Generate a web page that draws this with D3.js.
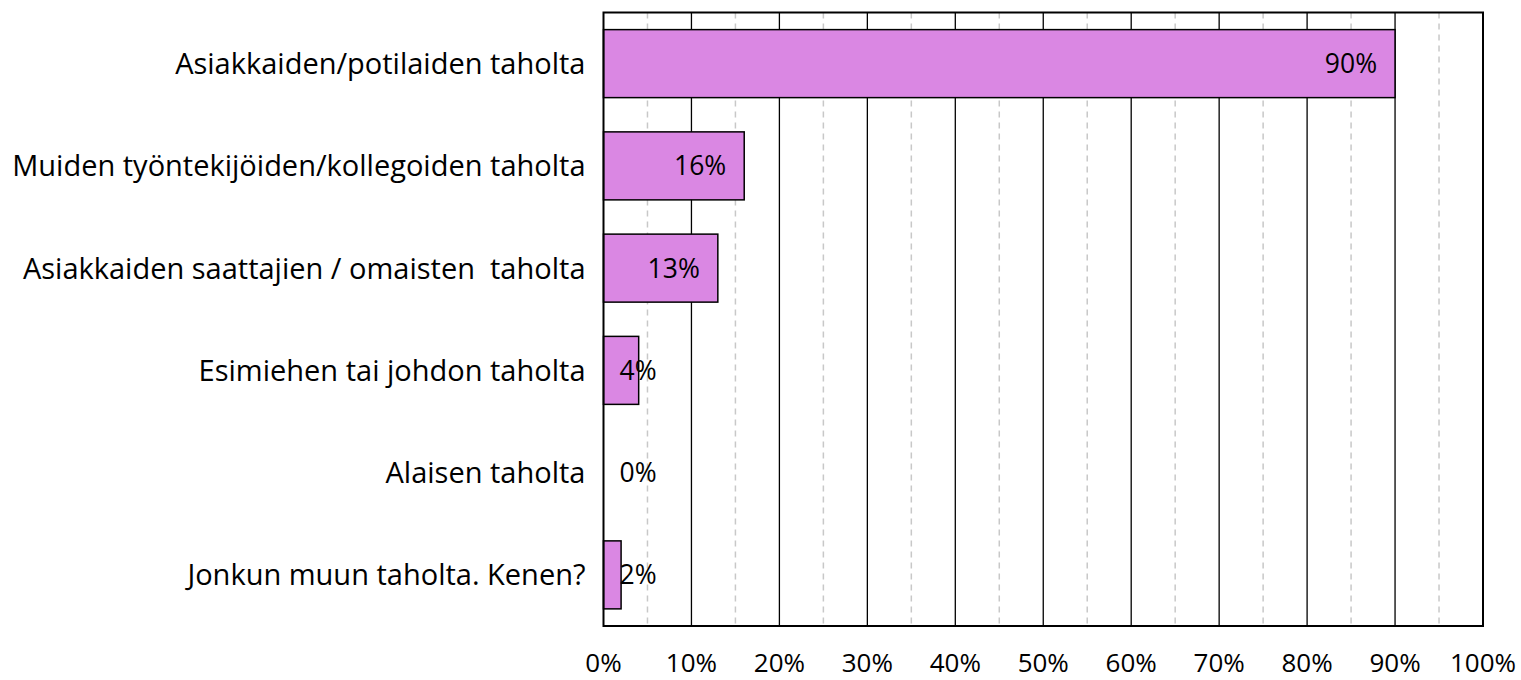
<!DOCTYPE html>
<html>
<head>
<meta charset="utf-8">
<script src="https://cdn.jsdelivr.net/npm/d3@7"></script>
<style>
  body { margin: 0; background: #fff; }
  text { font-family: "Open Sans", sans-serif; fill: #000; white-space: pre; }
</style>
</head>
<body>
<div id="chart"></div>
<script>
var categories = [
  "Asiakkaiden/potilaiden taholta",
  "Muiden työntekijöiden/kollegoiden taholta",
  "Asiakkaiden saattajien / omaisten  taholta",
  "Esimiehen tai johdon taholta",
  "Alaisen taholta",
  "Jonkun muun taholta. Kenen?"
];
var values = [90, 16, 13, 4, 0, 2];
var majorTicks = [0, 10, 20, 30, 40, 50, 60, 70, 80, 90, 100];
var minorTicks = [5, 15, 25, 35, 45, 55, 65, 75, 85, 95];

// *****************************************************************************
// dimensions
// *****************************************************************************
var W = 1521, H = 680;
var margin = { top: 12.5, right: 38, bottom: 54, left: 603.5 };
var width = W - margin.left - margin.right,
  height = H - margin.top - margin.bottom;

var svg = d3
  .select("#chart")
  .append("svg")
  .attr("width", W)
  .attr("height", H)
  .append("g")
  .attr("transform", "translate(" + margin.left + "," + margin.top + ")");

var x = d3.scaleLinear().domain([0, 100]).range([0, width]);
var y = d3
  .scaleBand()
  .domain(categories)
  .range([0, height])
  .paddingInner(0.335)
  .paddingOuter(0.1675);

// *****************************************************************************
// grid lines
// *****************************************************************************
svg
  .selectAll(".minor")
  .data(minorTicks)
  .enter()
  .append("line")
  .attr("x1", (d) => x(d))
  .attr("x2", (d) => x(d))
  .attr("y1", 0)
  .attr("y2", height)
  .attr("stroke", "#c8c8c8")
  .attr("stroke-width", 1.5)
  .attr("stroke-dasharray", "6,5");

svg
  .selectAll(".major")
  .data(majorTicks.slice(1, -1))
  .enter()
  .append("line")
  .attr("x1", (d) => x(d))
  .attr("x2", (d) => x(d))
  .attr("y1", 0)
  .attr("y2", height)
  .attr("stroke", "#000")
  .attr("stroke-width", 1.3);

// *****************************************************************************
// bars
// *****************************************************************************
svg
  .selectAll(".bar")
  .data(values)
  .enter()
  .append("rect")
  .attr("x", x(0))
  .attr("y", (d, i) => y(categories[i]))
  .attr("width", (d) => x(d) - x(0))
  .attr("height", y.bandwidth())
  .attr("fill", "#da87e3")
  .attr("stroke", (d) => (d > 0 ? "#000" : "none"))
  .attr("stroke-width", 1.5);

// frame
svg
  .append("rect")
  .attr("x", 0)
  .attr("y", 0)
  .attr("width", width)
  .attr("height", height)
  .attr("fill", "none")
  .attr("stroke", "#000")
  .attr("stroke-width", 2);

// *****************************************************************************
// value labels (inside end, pushed right when bar is too short)
// *****************************************************************************
values.forEach(function (v, i) {
  var t = svg
    .append("text")
    .attr("text-anchor", "end")
    .attr("y", y(categories[i]) + y.bandwidth() / 2)
    .attr("dy", "0.36em")
    .style("font-size", "26.5px")
    .text(v + "%");
  var tw = t.node().getComputedTextLength();
  var xe = Math.max(x(v) - 18, x(0) + 16 + tw);
  t.attr("x", xe);
});

// *****************************************************************************
// category labels
// *****************************************************************************
svg
  .selectAll(".cat")
  .data(categories)
  .enter()
  .append("text")
  .attr("text-anchor", "end")
  .attr("x", -18)
  .attr("y", (d) => y(d) + y.bandwidth() / 2)
  .attr("dy", "0.36em")
  .style("font-size", "29px")
  .text((d) => d);

// *****************************************************************************
// x tick labels
// *****************************************************************************
svg
  .selectAll(".tick")
  .data(majorTicks)
  .enter()
  .append("text")
  .attr("text-anchor", "middle")
  .attr("x", (d) => x(d))
  .attr("y", height + 46)
  .style("font-size", "26px")
  .text((d) => d + "%");
</script>
</body>
</html>
